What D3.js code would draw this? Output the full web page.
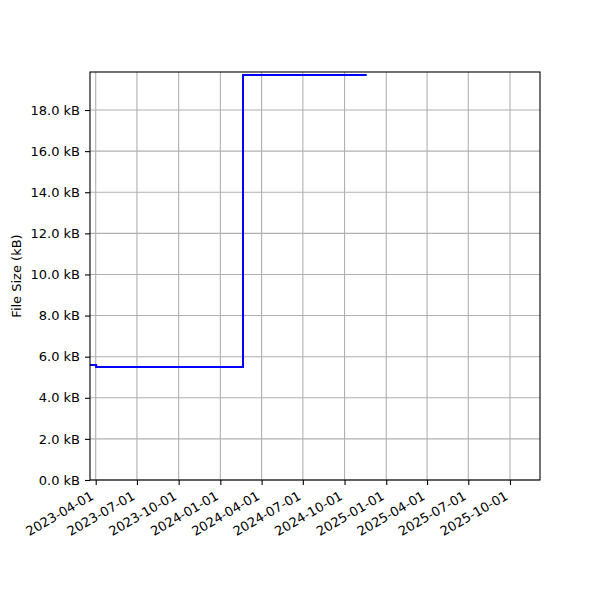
<!DOCTYPE html>
<html>
<head>
<meta charset="utf-8">
<script src="https://cdn.jsdelivr.net/npm/d3@7"></script>
<style>
  body { margin: 0; background: #fff; }
  text { font-family: "DejaVu Sans", sans-serif; }
</style>
</head>
<body>
<svg id="chart" width="600" height="600"></svg>
<script>
// file size history (step after each date)
var dates = ["2023-03-19", "2023-04-02", "2024-02-20", "2024-11-19"];
var sizes = [5.6, 5.5, 19.71, 19.71];
var yTicks = [0, 2, 4, 6, 8, 10, 12, 14, 16, 18];

var data = dates.map(function(d, i) { return { date: new Date(d + "T00:00:00Z"), size: sizes[i] }; });

var svg = d3.select("#chart");
var mLeft = 90, mRight = 540, mTop = 72, mBottom = 480;
var fontSize = "13px";

var x = d3.scaleUtc()
    .domain([new Date(Date.UTC(2023, 2, 19, 10)), new Date(Date.UTC(2025, 11, 6, 5))])
    .range([mLeft, mRight]);
var y = d3.scaleLinear().domain([0, 19.85]).range([mBottom, mTop]);

var xTicks = d3.utcMonth.every(3).range(x.domain()[0], x.domain()[1]);

// grid
svg.append("g").selectAll("line").data(xTicks).enter().append("line")
    .attr("x1", d => x(d)).attr("x2", d => x(d))
    .attr("y1", mTop).attr("y2", mBottom)
    .attr("stroke", "#b0b0b0").attr("stroke-width", 1.1);
svg.append("g").selectAll("line").data(yTicks).enter().append("line")
    .attr("x1", mLeft).attr("x2", mRight)
    .attr("y1", d => y(d)).attr("y2", d => y(d))
    .attr("stroke", "#b0b0b0").attr("stroke-width", 1.1);

// the step line
var line = d3.line()
    .x(d => x(d.date))
    .y(d => y(d.size))
    .curve(d3.curveStepAfter);

svg.append("path")
    .datum(data)
    .attr("d", line)
    .attr("fill", "none")
    .attr("stroke", "#0000ff")
    .attr("stroke-width", 2);

// axes
var xAxis = svg.append("g")
    .attr("transform", "translate(0," + mBottom + ")")
    .call(d3.axisBottom(x).tickValues(xTicks).tickFormat(d3.utcFormat("%Y-%m-%d")).tickSize(5));
xAxis.selectAll("text")
    .attr("font-size", fontSize)
    .attr("fill", "#000")
    .attr("text-anchor", "end")
    .attr("x", 0).attr("y", 0)
    .attr("dy", 0)
    .attr("transform", "translate(-1.5,18.5) rotate(-30)");

var yAxis = svg.append("g")
    .attr("transform", "translate(" + mLeft + ",0)")
    .call(d3.axisLeft(y).tickValues(yTicks).tickFormat(d => d3.format(".1f")(d) + " kB").tickSize(5).tickPadding(5));
yAxis.selectAll("text").attr("font-size", fontSize).attr("fill", "#000");

svg.selectAll(".domain").remove();
svg.selectAll(".tick line").attr("stroke", "#000").attr("stroke-width", 1.1);

// frame
svg.append("rect")
    .attr("x", mLeft).attr("y", mTop)
    .attr("width", mRight - mLeft).attr("height", mBottom - mTop)
    .attr("fill", "none")
    .attr("stroke", "#000")
    .attr("stroke-width", 1.1);

svg.append("text")
    .attr("transform", "translate(20.5," + (mTop + mBottom) / 2 + ")rotate(-90)")
    .attr("text-anchor", "middle")
    .attr("font-size", fontSize)
    .text("File Size (kB)");
</script>
</body>
</html>
